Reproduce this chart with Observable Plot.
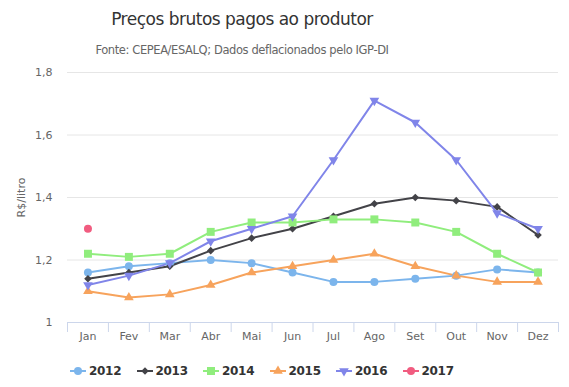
<!DOCTYPE html>
<html><head><meta charset="utf-8">
<script src="https://cdn.jsdelivr.net/npm/d3@7"></script>
<script src="https://cdn.jsdelivr.net/npm/@observablehq/plot@0.6"></script>
<style>
body{margin:0;background:#fff;font-family:"DejaVu Sans",sans-serif;}
#wrap{position:relative;width:569px;height:387px;overflow:hidden}
#title{position:absolute;left:0;width:484px;top:7px;text-align:center;font-size:17px;letter-spacing:-0.5px;line-height:24px;color:#333;white-space:nowrap}
#subtitle{position:absolute;left:0;width:484px;top:42px;text-align:center;font-size:11.5px;letter-spacing:-0.4px;line-height:16px;color:#666;white-space:nowrap}
#chart{position:absolute;left:0;top:60px}
#legend{position:absolute;top:362px;left:0;width:569px;height:18px}
.item{position:absolute;top:0;height:18px;display:flex;align-items:center;font-size:12px;font-weight:bold;color:#333;letter-spacing:-0.3px}
.item svg{margin-right:3px}
</style></head>
<body><div id="wrap">
<div id="title">Preços brutos pagos ao produtor</div>
<div id="subtitle">Fonte: CEPEA/ESALQ; Dados deflacionados pelo IGP-DI</div>
<div id="chart"></div>
<div id="legend"></div>
</div>
<script>
const months = ["Jan","Fev","Mar","Abr","Mai","Jun","Jul","Ago","Set","Out","Nov","Dez"];
const years = ["2012","2013","2014","2015","2016","2017"];
const v2012 = [1.16,1.18,1.19,1.20,1.19,1.16,1.13,1.13,1.14,1.15,1.17,1.16];
const v2013 = [1.14,1.16,1.18,1.23,1.27,1.30,1.34,1.38,1.40,1.39,1.37,1.28];
const v2014 = [1.22,1.21,1.22,1.29,1.32,1.32,1.33,1.33,1.32,1.29,1.22,1.16];
const v2015 = [1.10,1.08,1.09,1.12,1.16,1.18,1.20,1.22,1.18,1.15,1.13,1.13];
const v2016 = [1.12,1.15,1.19,1.26,1.30,1.34,1.52,1.71,1.64,1.52,1.35,1.30];
const v2017 = [1.30];
const yTicks = [1,1.2,1.4,1.6,1.8];
const colors = ["#7cb5ec","#434348","#90ed7d","#f7a35c","#8085e9","#f15c80"];
const symbols = ["circle","diamond2","square","triangle","triangle","circle"];
const rotations = [0,0,0,0,180,0];
const radii = [4,3.4,4.5,3.6,3.6,4];

const series = [v2012,v2013,v2014,v2015,v2016,v2017];
const rows = [];
series.forEach((vals, s) => vals.forEach((v, i) => rows.push({year: years[s], s, i, month: months[i], v})));

const idx = d3.range(months.length);
const bounds = d3.range(months.length + 1).map(i => i - 0.5);
const fmt = d => String(d).replace(".", ",");

const marks = [
  Plot.gridY(yTicks.slice(1), {stroke:"#e6e6e6", strokeOpacity:1}),
  Plot.axisY(yTicks, {tickSize:0, tickPadding:15, tickFormat:fmt, fontSize:11, color:"#666",
    label:"R$/litro", labelAnchor:"center", labelArrow:"none", labelOffset:50}),
  Plot.ruleY([1], {stroke:"#ccd6eb"}),
  Plot.axisX(bounds, {tickSize:10, tickFormat:() => "", stroke:"#ccd6eb", strokeOpacity:1, label:null}),
  Plot.axisX(idx, {tickSize:0, tickPadding:10, tickFormat:i => months[i], fontSize:11, color:"#666", label:null})
];
years.forEach((y, s) => {
  const data = rows.filter(r => r.s === s);
  marks.push(Plot.line(data, {x:"i", y:"v", stroke:colors[s], strokeWidth:2}));
});
years.forEach((y, s) => {
  const data = rows.filter(r => r.s === s);
  marks.push(Plot.dot(data, {x:"i", y:"v", fill:colors[s], symbol:symbols[s], r:radii[s], rotate:rotations[s], stroke:"none"}));
});

const chart = Plot.plot({
  width:569, height:292,
  marginLeft:67, marginRight:11, marginTop:12, marginBottom:30,
  style:{fontFamily:"DejaVu Sans, sans-serif", background:"white"},
  x:{type:"linear", domain:[-0.5, 11.5]},
  y:{domain:[1, 1.8]},
  marks
});
document.getElementById("chart").appendChild(chart);

// legend
const legend = d3.select("#legend");
years.forEach((y, s) => {
  const item = legend.append("div").attr("class","item").style("left", (70 + s*66.5) + "px");
  const svg = item.append("svg").attr("width",16).attr("height",12);
  svg.append("line").attr("x1",0).attr("x2",16).attr("y1",6).attr("y2",6).attr("stroke",colors[s]).attr("stroke-width",2);
  const sym = d3.symbol().type({circle:d3.symbolCircle, diamond2:d3.symbolDiamond2, square:d3.symbolSquare, triangle:d3.symbolTriangle}[symbols[s]]).size(Math.PI*radii[s]*radii[s]);
  svg.append("path").attr("d", sym()).attr("fill", colors[s]).attr("transform", `translate(8,6) rotate(${rotations[s]})`);
  item.append("span").text(y);
});
</script>
</body></html>
